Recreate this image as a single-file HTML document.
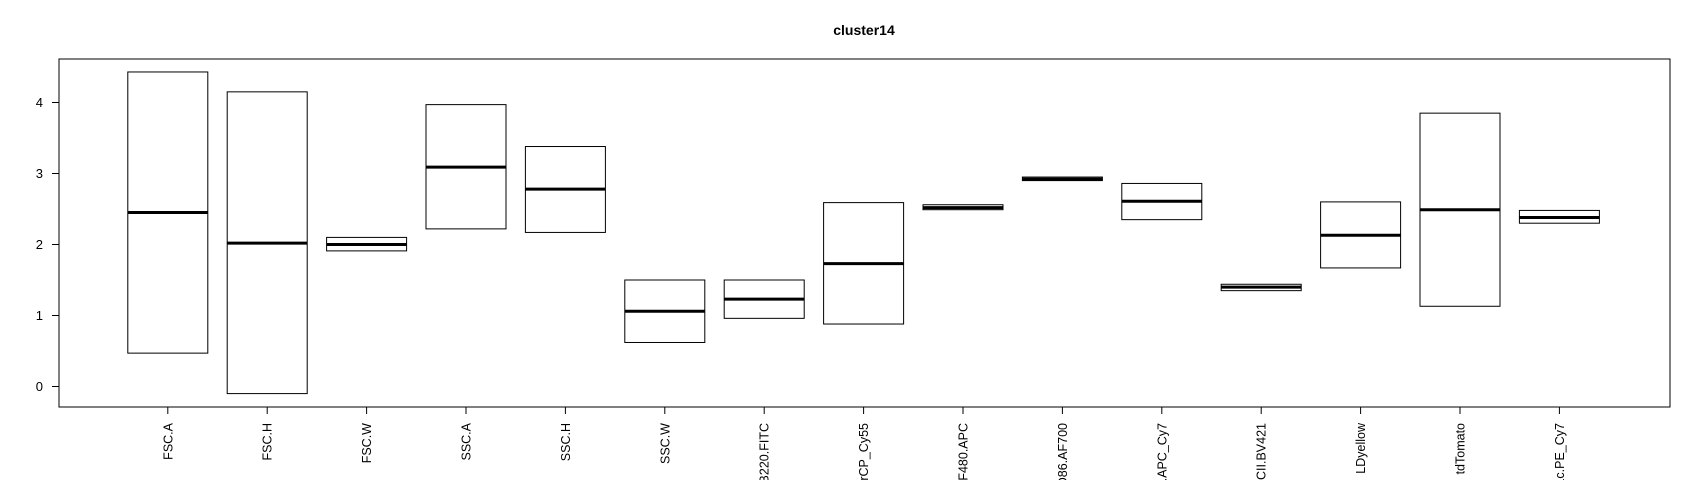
<!DOCTYPE html>
<html><head><meta charset="utf-8"><style>
html,body{margin:0;padding:0;background:#fff;overflow:hidden;}
svg{display:block;font-family:"Liberation Sans",Arial,sans-serif;}
</style></head><body>
<svg id="chart" width="1700" height="480" viewBox="0 0 1700 480">
<text x="864" y="35" text-anchor="middle" font-size="14" font-weight="bold">cluster14</text>
<rect x="59" y="59" width="1611" height="348" fill="none" stroke="#000" stroke-width="1"/>
<g id="yaxis"></g>
<g id="xaxis"></g>
<g id="boxes"></g>
</svg>
<script>
const categories = ["FSC.A","FSC.H","FSC.W","SSC.A","SSC.H","SSC.W","B220.FITC","PerCP_Cy55","F480.APC","CD86.AF700","CD11b.APC_Cy7","MHCII.BV421","LDyellow","tdTomato","CD11c.PE_Cy7"];
const lowerValues = [0.47,-0.1,1.91,2.22,2.17,0.62,0.96,0.88,2.49,2.90,2.35,1.35,1.67,1.13,2.30];
const medianValues = [2.45,2.02,2.00,3.09,2.78,1.06,1.23,1.73,2.52,2.92,2.61,1.40,2.13,2.49,2.38];
const upperValues = [4.43,4.15,2.10,3.97,3.38,1.50,1.50,2.59,2.56,2.95,2.86,1.44,2.60,3.85,2.48];
const yTicks = [0,1,2,3,4];

const NS="http://www.w3.org/2000/svg";
function y(v){return 386.5 - v*71;}
function x(i){return 167.8 + i*99.4;}
const half=40;
function mk(tag,attrs,parent){const e=document.createElementNS(NS,tag);for(const k in attrs)e.setAttribute(k,attrs[k]);parent.appendChild(e);return e;}
const ya=document.getElementById('yaxis'), xa=document.getElementById('xaxis'), bx=document.getElementById('boxes');
yTicks.forEach(t=>{
  const l=mk('line',{x1:52,x2:59,y1:y(t),y2:y(t),stroke:'#000'},ya);
  
  
  const tx=mk('text',{x:43,y:y(t)+4.5,'font-size':13,'text-anchor':'end'},ya);
  tx.textContent=t;
  
  
});
categories.forEach((c,i)=>{
  const cx=x(i);
  const tk=mk('line',{x1:cx,x2:cx,y1:407,y2:414,stroke:'#000'},xa);
  
  
  const tx=mk('text',{x:cx+4.5,y:423,'font-size':12.5,'text-anchor':'end',transform:`rotate(-90 ${cx+4.5} 423)`},xa);
  tx.textContent=c;
  
  
  const r=mk('rect',{x:cx-half,y:y(upperValues[i]),width:half*2,height:y(lowerValues[i])-y(upperValues[i]),fill:'none',stroke:'#000','stroke-width':1},bx);
  
  
  const m=mk('line',{x1:cx-half,x2:cx+half,y1:y(medianValues[i]),y2:y(medianValues[i]),stroke:'#000','stroke-width':3},bx);
  
  
});
</script>
</body></html>
